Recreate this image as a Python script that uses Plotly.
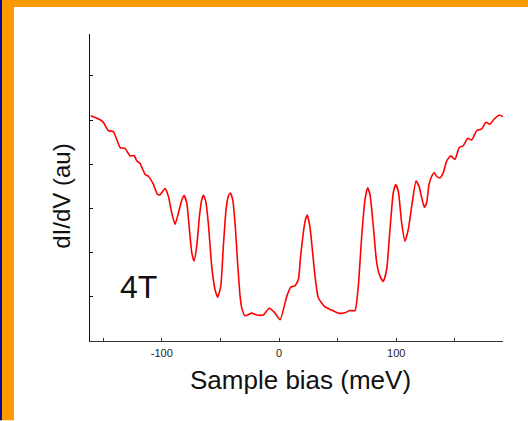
import plotly.graph_objects as go

# Data (sample bias in meV, dI/dV in arbitrary units)
bias_mev = [-160.5, -156.9, -152.6, -149.8, -145.5, -141.3, -135.5, -131.3, -127.0, -123.6,
            -121.3, -118.5, -114.2, -111.4, -107.2, -103.7, -101.4, -97.2, -94.4, -91.5,
            -88.7, -85.8, -82.9, -81.0, -78.7, -76.4, -74.4, -72.5, -70.2, -67.9,
            -65.9, -64.5, -62.5, -60.3, -57.4, -54.6, -52.3, -49.7, -47.5, -45.2,
            -43.2, -41.5, -39.5, -37.5, -35.5, -33.2, -31.8, -29.0, -23.3, -19.0,
            -13.4, -8.3, -3.4, 0.9, 6.6, 10.0, 13.6, 16.5, 18.4, 20.7,
            22.4, 24.1, 25.6, 27.0, 28.8, 30.7, 33.5, 39.2, 44.9, 50.6,
            56.3, 60.5, 64.8, 67.6, 70.5, 73.3, 75.6, 77.6, 80.4, 83.3,
            86.1, 88.9, 91.8, 94.6, 97.4, 99.5, 101.7, 104.6, 107.4, 110.2,
            113.6, 116.8, 119.4, 121.7, 123.9, 125.9, 127.9, 130.2, 132.4, 134.4,
            137.2, 140.1, 143.0, 146.4, 150.0, 153.7, 157.1, 160.9, 164.3, 168.5,
            172.8, 176.5, 179.9, 183.3, 187.8, 191.2]
didv_au = [5.10, 5.06, 5.01, 4.95, 4.76, 4.74, 4.38, 4.36, 4.19, 4.20,
           4.08, 4.02, 3.77, 3.73, 3.55, 3.32, 3.31, 3.45, 3.28, 2.90,
           2.64, 2.90, 3.19, 3.29, 3.13, 2.52, 2.00, 1.81, 2.14, 2.82,
           3.20, 3.30, 3.16, 2.67, 1.69, 1.17, 0.99, 1.24, 2.14, 2.97,
           3.28, 3.35, 3.20, 2.67, 1.84, 1.01, 0.75, 0.57, 0.63, 0.59,
           0.59, 0.74, 0.63, 0.48, 1.01, 1.22, 1.25, 1.39, 1.92, 2.45,
           2.73, 2.85, 2.70, 2.45, 1.96, 1.47, 0.98, 0.77, 0.70, 0.63,
           0.64, 0.69, 0.69, 1.24, 2.37, 3.20, 3.47, 3.31, 2.60, 1.77,
           1.47, 1.35, 1.62, 2.52, 3.35, 3.54, 3.39, 2.67, 2.26, 2.52,
           3.13, 3.62, 3.50, 3.24, 3.03, 3.13, 3.54, 3.73, 3.81, 3.73,
           3.69, 3.81, 4.08, 4.19, 4.11, 4.38, 4.42, 4.59, 4.55, 4.76,
           4.80, 4.95, 4.91, 5.02, 5.11, 5.08]

x_tick_vals = [-150, -100, -50, 0, 50, 100, 150]
x_tick_text = ["", "-100", "", "0", "", "100", ""]
y_tick_vals = [0, 1, 2, 3, 4, 5, 6]
field_label = "4T"
x_title = "Sample bias (meV)"
y_title = "dI/dV (au)"

W, H = 528, 421
L, R, T, B = 90, 25, 34, 79.5
pw, ph = W - L - R, H - T - B

def px_x(p):
    return (p - L) / pw

def px_y(p):
    return (H - B - p) / ph

FONT = "Liberation Sans, Arial, sans-serif"

fig = go.Figure()
fig.add_trace(go.Scatter(x=bias_mev, y=didv_au, mode="lines",
                         line=dict(color="#ff0000", width=1.6, shape="spline", smoothing=0.5),
                         hoverinfo="skip", showlegend=False))

fig.update_layout(
    width=W, height=H,
    margin=dict(l=L, r=R, t=T, b=B),
    paper_bgcolor="white", plot_bgcolor="white",
    font=dict(family=FONT, color="#111111"),
    xaxis=dict(range=[-161.2, 191.0], tickvals=x_tick_vals, ticktext=x_tick_text,
               ticks="inside", ticklen=3, tickcolor="#333333", showline=True,
               linecolor="#333333", linewidth=1.2, showgrid=False, zeroline=False,
               tickfont=dict(size=11, color="#222222"), ticklabelstandoff=2),
    yaxis=dict(range=[0, 6.95], tickvals=y_tick_vals, showticklabels=False,
               ticks="inside", ticklen=3, tickcolor="#111111", showline=True,
               linecolor="#111111", linewidth=1.2, showgrid=False, zeroline=False),
    shapes=[
        dict(type="rect", xref="paper", yref="paper", x0=px_x(0), x1=px_x(14),
             y0=px_y(H), y1=px_y(0), fillcolor="#ff9900", line=dict(width=0), layer="above"),
        dict(type="rect", xref="paper", yref="paper", x0=px_x(0), x1=px_x(W),
             y0=px_y(7), y1=px_y(0), fillcolor="#ff9900", line=dict(width=0), layer="above"),
        dict(type="rect", xref="paper", yref="paper", x0=px_x(0), x1=px_x(2),
             y0=px_y(H), y1=px_y(0), fillcolor="#0a0a96", line=dict(width=0), layer="above"),
    ],
    annotations=[
        dict(text=x_title, xref="paper", yref="paper", x=px_x(300), y=px_y(381),
             showarrow=False, xanchor="center", yanchor="middle",
             font=dict(size=26, family=FONT, color="#111111")),
        dict(text=y_title, xref="paper", yref="paper", x=px_x(62), y=px_y(197),
             showarrow=False, xanchor="center", yanchor="middle", textangle=-90,
             font=dict(size=24, family=FONT, color="#111111")),
        dict(text=field_label, xref="paper", yref="paper", x=px_x(138), y=px_y(287),
             showarrow=False, xanchor="center", yanchor="middle",
             font=dict(size=32, family=FONT, color="#111111")),
    ],
)

fig.write_html("out.html")
